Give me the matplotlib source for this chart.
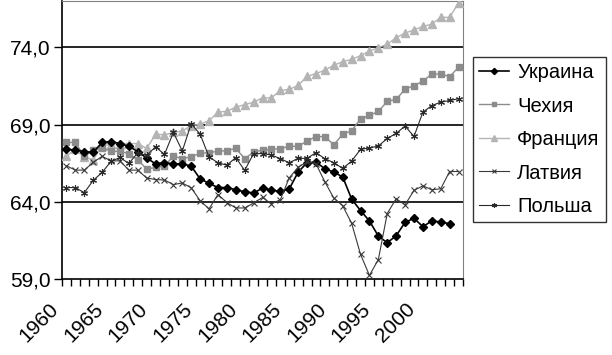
import numpy as np
import matplotlib
matplotlib.use("Agg")
import matplotlib.pyplot as plt
from matplotlib.ticker import FixedLocator, FuncFormatter
from matplotlib.transforms import ScaledTranslation

# life expectancy data
years = list(range(1960, 2005))
ukraine = [67.40, 67.35, 67.25, 67.20, 67.84, 67.90, 67.77, 67.60, 67.25, 66.83,
           66.46, 66.53, 66.46, 66.46, 66.31, 65.48, 65.20, 64.92, 64.92, 64.78,
           64.65, 64.57, 64.88, 64.76, 64.67, 64.83, 65.92, 66.53, 66.57, 66.14,
           65.92, 65.61, 64.18, 63.43, 62.76, 61.78, 61.35, 61.80, 62.67, 62.93,
           62.39, 62.76, 62.69, 62.58]
czech = [67.84, 67.84, 66.96, 67.33, 67.50, 67.27, 67.27, 67.12, 66.71, 66.12,
         66.22, 66.32, 66.96, 66.79, 66.92, 67.14, 67.18, 67.27, 67.31, 67.46,
         66.79, 67.22, 67.35, 67.40, 67.44, 67.60, 67.58, 67.94, 68.22, 68.22,
         67.69, 68.37, 68.60, 69.36, 69.59, 69.85, 70.50, 70.63, 71.29, 71.52,
         71.81, 72.27, 72.27, 72.10, 72.71]
france = [66.96, 67.40, 66.92, 66.71, 67.61, 67.73, 67.77, 67.77, 67.77, 67.45,
          68.38, 68.33, 68.49, 68.59, 68.92, 69.03, 69.25, 69.80, 69.86, 70.12,
          70.29, 70.45, 70.73, 70.73, 71.21, 71.27, 71.54, 72.12, 72.30, 72.52,
          72.84, 73.07, 73.22, 73.46, 73.76, 73.98, 74.20, 74.63, 74.92, 75.13,
          75.35, 75.50, 75.94, 75.94, 76.88]
latvia = [66.33, 66.05, 66.05, 66.55, 66.94, 66.65, 66.65, 66.05, 66.05, 65.54,
          65.44, 65.41, 65.11, 65.22, 64.90, 64.07, 63.54, 64.47, 63.95, 63.60,
          63.60, 63.92, 64.28, 63.87, 64.13, 65.55, 66.24, 66.57, 66.46, 65.29,
          64.24, 63.74, 62.61, 60.60, 59.23, 60.26, 63.24, 64.20, 63.80, 64.74,
          65.03, 64.78, 64.84, 65.96, 65.96]
poland = [64.92, 64.92, 64.59, 65.38, 65.90, 66.61, 66.87, 66.48, 67.17, 67.00,
          67.56, 67.07, 68.49, 67.29, 69.05, 68.38, 66.90, 66.53, 66.37, 66.86,
          66.03, 67.12, 67.12, 67.03, 66.79, 66.53, 66.81, 66.81, 67.18, 66.79,
          66.53, 66.16, 66.63, 67.40, 67.48, 67.61, 68.10, 68.43, 68.90, 68.23,
          69.80, 70.23, 70.45, 70.56, 70.67]
y_ticks = [59.0, 64.0, 69.0, 74.0]

plt.rcParams['font.family'] = ['Liberation Sans', 'DejaVu Sans']

fig = plt.figure(figsize=(6.12, 3.55), dpi=100)
ax = fig.add_axes([62 / 612, 1 - 279 / 355, (463 - 62) / 612, 278 / 355])

x = np.arange(len(years))

ax.plot(x[:len(ukraine)], ukraine, color='black', lw=1.2, marker='D', ms=4.5,
        label='Украина', zorder=5)
ax.plot(x, czech, color='#8c8c8c', lw=1.0, marker='s', ms=5, label='Чехия', zorder=4)
ax.plot(x, france, color='#b4b4b4', lw=1.0, marker='^', ms=5.5, label='Франция', zorder=3)
ax.plot(x, latvia, color='#3a3a3a', lw=0.8, marker='x', ms=4, mew=0.8,
        label='Латвия', zorder=6)
ax.plot(x, poland, color='#2a2a2a', lw=0.8, marker=(6, 2, 0), ms=5, mew=0.8,
        label='Польша', zorder=6)

ax.set_xlim(-0.5, len(years) - 0.5)
ax.set_ylim(59, 77)

# horizontal gridlines
for v in y_ticks[1:]:
    ax.axhline(v, color='black', lw=1.2, zorder=1)

ax.yaxis.set_major_locator(FixedLocator(y_ticks))
ax.yaxis.set_major_formatter(FuncFormatter(lambda v, p: f"{v:.1f}".replace('.', ',')))
ax.tick_params(axis='y', direction='out', length=6, width=1, labelsize=15, pad=2)

# category axis: marks between years, labels every 5 years
ax.set_xticks(x[::5])
ax.set_xticklabels([str(y) for y in years[::5]], rotation=45, ha='right', va='top')
ax.set_xticks(np.arange(len(years) + 1) - 0.5, minor=True)
ax.tick_params(axis='x', which='major', length=0, labelsize=15, pad=15)
ax.tick_params(axis='x', which='minor', direction='out', length=5, width=1)
shift = ScaledTranslation(-4 / 100, 0, fig.dpi_scale_trans)
for lab in ax.get_xticklabels():
    lab.set_transform(lab.get_transform() + shift)

ax.spines['left'].set_color('black')
ax.spines['bottom'].set_color('black')
ax.spines['left'].set_linewidth(1.2)
ax.spines['bottom'].set_linewidth(1.2)
ax.spines['top'].set_color('#808080')
ax.spines['right'].set_color('#808080')

leg = fig.legend(loc='upper left', bbox_to_anchor=(473 / 612, 1 - 57 / 355),
                 fontsize=14.5, frameon=True, fancybox=False, edgecolor='black',
                 handlelength=1.5, handletextpad=0.4, borderpad=0.3,
                 labelspacing=0.72, borderaxespad=0, markerscale=0.7)
leg.get_frame().set_linewidth(1.0)

fig.savefig('out.png', dpi=100)
